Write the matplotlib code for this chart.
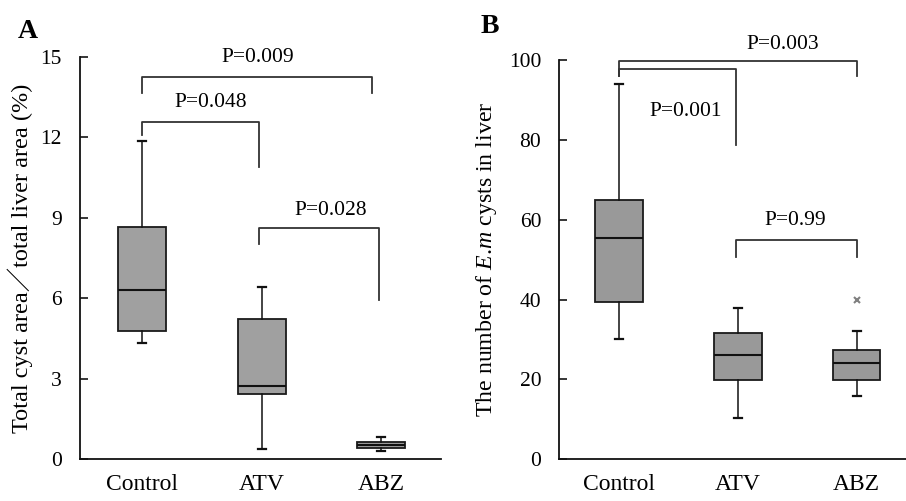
import matplotlib
matplotlib.use("Agg")
import matplotlib.pyplot as plt

plt.rcParams['font.family'] = ['Liberation Serif', 'DejaVu Serif']
plt.rcParams['mathtext.fontset'] = 'custom'
plt.rcParams['mathtext.it'] = 'Liberation Serif:italic'
plt.rcParams['mathtext.rm'] = 'Liberation Serif'

categories = ["Control", "ATV", "ABZ"]

# Panel A: total cyst area / total liver area (%)
a_whislo = [4.34, 0.36, 0.30]
a_q1 = [4.79, 2.41, 0.40]
a_med = [6.29, 2.72, 0.52]
a_q3 = [8.66, 5.22, 0.65]
a_whishi = [11.88, 6.40, 0.83]
a_fliers = [[], [], []]
a_yticks = [0, 3, 6, 9, 12, 15]

# Panel B: number of E.m cysts in liver
b_whislo = [30.1, 10.2, 15.9]
b_q1 = [39.3, 19.7, 19.7]
b_med = [55.5, 26.0, 24.1]
b_q3 = [64.96, 31.5, 27.4]
b_whishi = [94.0, 37.9, 32.1]
b_fliers = [[], [], [40.0]]
b_yticks = [0, 20, 40, 60, 80, 100]

# significance brackets: (x_left, x_right, y_bar, y_left_end, y_right_end, label, text_x, text_y)
a_brackets = [
    (0, 1.92, 14.24, 13.65, 13.65, "P=0.009", 0.97, 15.0),
    (0, 0.98, 12.57, 12.09, 10.90, "P=0.048", 0.57, 13.3),
    (0.98, 1.98, 8.61, 8.01, 5.93, "P=0.028", 1.58, 9.26),
]
b_brackets = [
    (0, 2.0, 99.8, 96.1, 96.1, "P=0.003", 1.38, 104.0),
    (0, 0.98, 97.7, 96.1, 78.8, "P=0.001", 0.56, 87.1),
    (0.98, 2.0, 54.9, 50.7, 50.7, "P=0.99", 1.48, 59.9),
]

fig = plt.figure(figsize=(9.06, 5.01), dpi=100)
axA = fig.add_axes([0.0883, 0.0838, 0.3985, 0.8024])
axB = fig.add_axes([0.6173, 0.0838, 0.3827, 0.7958])


def draw(ax, lo, q1, med, q3, hi, fl, color, ylim, yticks, brackets):
    stats = []
    for i in range(len(categories)):
        stats.append(dict(whislo=lo[i], q1=q1[i], med=med[i], q3=q3[i],
                          whishi=hi[i], fliers=fl[i], label=categories[i]))
    ax.bxp(stats, positions=range(len(categories)), widths=0.4,
           patch_artist=True, capwidths=0.065,
           boxprops=dict(facecolor=color, edgecolor='#1a1a1a', linewidth=1.3),
           medianprops=dict(color='#111111', linewidth=1.5),
           whiskerprops=dict(color='#111111', linewidth=1.1),
           capprops=dict(color='#111111', linewidth=1.6),
           flierprops=dict(marker='x', markeredgecolor='#808080',
                           markersize=5, markeredgewidth=1.5))
    ax.set_ylim(*ylim)
    ax.set_yticks(yticks)
    for s in ['top', 'right']:
        ax.spines[s].set_visible(False)
    for s in ['left', 'bottom']:
        ax.spines[s].set_linewidth(1.3)
        ax.spines[s].set_color('#111111')
    ax.tick_params(axis='y', direction='in', length=6, width=1.1, pad=13,
                   labelsize=15.5)
    ax.tick_params(axis='x', length=0, pad=11, labelsize=17)
    for (xl, xr, yb, yle, yre, lab, tx, ty) in brackets:
        ax.plot([xl, xl, xr, xr], [yle, yb, yb, yre], color='#333333',
                linewidth=1.3, clip_on=False)
        ax.text(tx, ty, lab, ha='center', va='center', fontsize=15.5)


draw(axA, a_whislo, a_q1, a_med, a_q3, a_whishi, a_fliers, '#a0a0a0',
     (0, 15), a_yticks, a_brackets)
axA.set_xlim(-0.52, 2.5)
axA.set_ylabel("Total cyst area／total liver area (%)", fontsize=17.5,
               family=['Liberation Serif', 'Noto Sans CJK SC'])
axA.yaxis.set_label_coords(-0.13, 0.5)

draw(axB, b_whislo, b_q1, b_med, b_q3, b_whishi, b_fliers, '#999999',
     (0, 100), b_yticks, b_brackets)
axB.set_xlim(-0.505, 2.415)
axB.set_ylabel(r"The number of $E$.$m$ cysts in liver", fontsize=17.2)
axB.yaxis.set_label_coords(-0.175, 0.5)

fig.text(0.020, 0.925, "A", fontsize=20, fontweight='bold')
fig.text(0.530, 0.935, "B", fontsize=20, fontweight='bold')

fig.savefig("out.png", dpi=100)
